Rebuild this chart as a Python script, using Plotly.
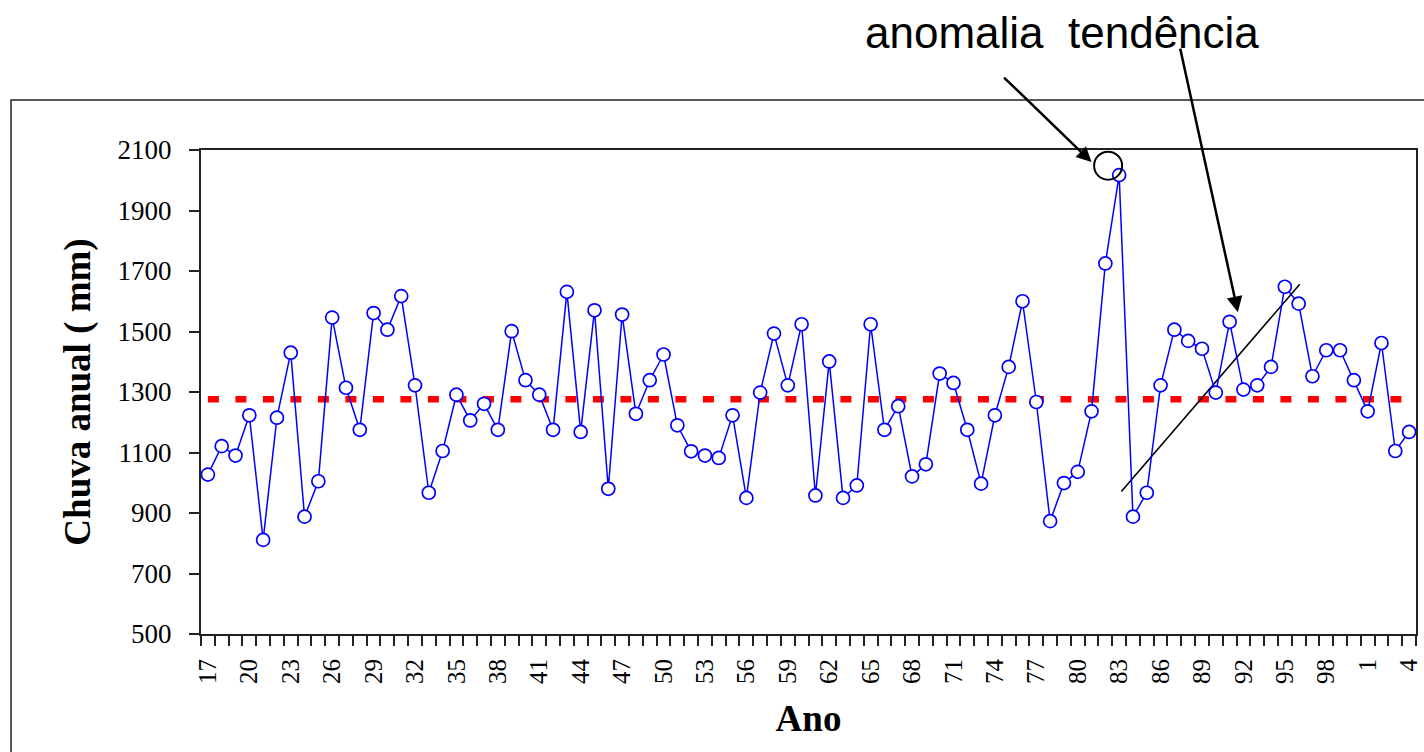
import plotly.graph_objects as go

# ---------------- data ----------------
anos = list(range(1917, 2005))
chuva = [
    1027, 1121, 1090, 1223, 811, 1215, 1430, 888, 1005, 1546,   # 1917-1926
    1314, 1175, 1561, 1506, 1617, 1322, 967, 1105, 1291, 1206,  # 1927-1936
    1261, 1175, 1501, 1339, 1291, 1175, 1631, 1168, 1570, 980,  # 1937-1946
    1556, 1228, 1339, 1424, 1190, 1104, 1090, 1082, 1223, 950,  # 1947-1956
    1298, 1493, 1322, 1524, 958, 1401, 950, 991, 1524, 1175,    # 1957-1966
    1253, 1021, 1061, 1361, 1330, 1175, 997, 1223, 1383, 1600,  # 1967-1976
    1267, 873, 999, 1036, 1236, 1725, 2017, 888, 967, 1322,     # 1977-1986
    1506, 1469, 1443, 1298, 1532, 1308, 1322, 1383, 1648, 1592, # 1987-1996
    1352, 1438, 1438, 1339, 1236, 1462, 1105, 1168,             # 1997-2004
]
media = 1276
tick_anos = list(range(1917, 2005, 3))
tick_labels = ["17", "20", "23", "26", "29", "32", "35", "38", "41", "44",
               "47", "50", "53", "56", "59", "62", "65", "68", "71", "74",
               "77", "80", "83", "86", "89", "92", "95", "98", "1", "4"]

# annotation geometry (data coordinates)
tend_x = [1983.16, 1996.08]
tend_y = [971, 1656]
anom_circle = (1982.2, 2048)

# ---------------- layout helpers ----------------
W, H = 1424, 752
L, R, T, B = 201, 8, 150, 118
pw, ph = W - L - R, H - T - B


def px_to_paper(px, py):
    return (px - L) / pw, (H - B - py) / ph


fig = go.Figure()

# mean line
fig.add_trace(go.Scatter(
    x=[anos[0], anos[-1]], y=[media, media], mode="lines",
    line=dict(color="#FF0000", width=6.5, dash="11px,16.5px"),
    hoverinfo="skip", showlegend=False))

# trend line
fig.add_trace(go.Scatter(
    x=tend_x, y=tend_y, mode="lines",
    line=dict(color="black", width=1.6),
    hoverinfo="skip", showlegend=False))

# rainfall series
fig.add_trace(go.Scatter(
    x=anos, y=chuva, mode="lines+markers",
    line=dict(color="#0000FF", width=1.5),
    marker=dict(symbol="circle", size=13, color="white",
                line=dict(color="#0000FF", width=1.7)),
    showlegend=False))

# anomaly circle
fig.add_trace(go.Scatter(
    x=[anom_circle[0]], y=[anom_circle[1]], mode="markers",
    marker=dict(symbol="circle", size=28, color="rgba(255,255,255,0)",
                line=dict(color="black", width=2)),
    cliponaxis=False, hoverinfo="skip", showlegend=False))

# outer chart frame
fx0, fy0 = px_to_paper(11, 100)
fx1, fy1 = px_to_paper(1440, 770)
fig.add_shape(type="rect", xref="paper", yref="paper",
              x0=fx0, y0=fy1, x1=fx1, y1=fy0,
              line=dict(color="#222222", width=1.5), layer="below")

# arrows
fig.add_annotation(x=1981.0, y=2060, xref="x", yref="y", ax=-89, ay=-86,
                   axref="pixel", ayref="pixel", text="", showarrow=True,
                   arrowhead=2, arrowsize=1.2, arrowwidth=2.5, arrowcolor="black")
fig.add_annotation(x=1991.6, y=1564, xref="x", yref="y", ax=-58, ay=-265,
                   axref="pixel", ayref="pixel", text="", showarrow=True,
                   arrowhead=2, arrowsize=1.25, arrowwidth=2.5, arrowcolor="black")

tx, ty = px_to_paper(1062, 33)
fig.add_annotation(x=tx, y=ty, xref="paper", yref="paper",
                   text="anomalia&nbsp; tendência", showarrow=False,
                   xanchor="center", yanchor="middle",
                   font=dict(family="Liberation Sans, Arial", size=44, color="black"))

fig.update_layout(
    width=W, height=H,
    margin=dict(l=L, r=R, t=T, b=B, pad=0),
    paper_bgcolor="white", plot_bgcolor="white",
    font=dict(family="Liberation Serif, Times New Roman", color="black"),
    xaxis=dict(
        range=[1916.5, 2004.5], tickmode="array", automargin=False,
        tickvals=tick_anos, ticktext=tick_labels, tickangle=-90,
        ticks="outside", ticklen=0, tickcolor="black",
        ticklabelstandoff=13, ticklabeloverflow="allow",
        minor=dict(ticks="outside", ticklen=10, tick0=1916.5, dtick=1,
                   tickcolor="#222222", tickwidth=1.5, showgrid=False),
        tickfont=dict(family="Liberation Serif", size=25, color="black"),
        showline=True, linecolor="#222222", linewidth=2, mirror=True,
        showgrid=False, zeroline=False,
        title=dict(text="<b>Ano</b>", standoff=22,
                   font=dict(family="Liberation Serif", size=37, color="black")),
    ),
    yaxis=dict(
        range=[500, 2100], tick0=500, dtick=200, automargin=False,
        ticks="outside", ticklen=10, tickwidth=1.5, tickcolor="#222222",
        ticklabelstandoff=12,
        tickfont=dict(family="Liberation Serif", size=27, color="black"),
        showline=True, linecolor="#222222", linewidth=2, mirror=True,
        showgrid=False, zeroline=False,
        title=dict(text="<b>Chuva anual ( mm)</b>", standoff=16,
                   font=dict(family="Liberation Serif", size=37, color="black")),
    ),
)

fig.write_html("out.html")
